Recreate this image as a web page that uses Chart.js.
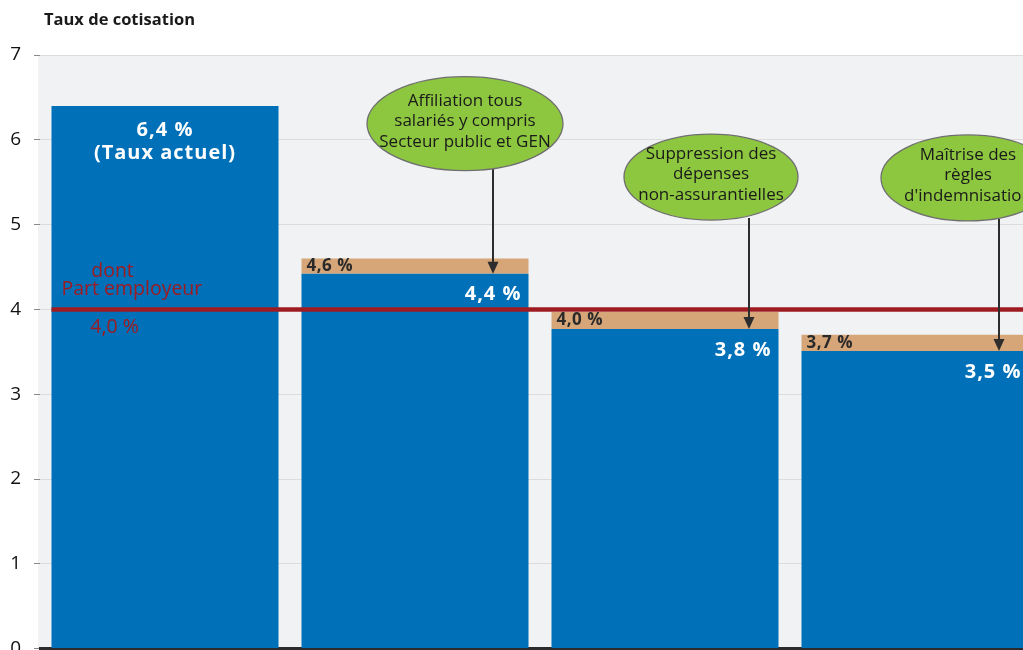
<!DOCTYPE html>
<html><head><meta charset="utf-8">
<script src="https://cdn.jsdelivr.net/npm/chart.js@4.4.1/dist/chart.umd.min.js"></script>
<style>html,body{margin:0;padding:0;background:#fff;overflow:hidden;width:1023px;height:650px}canvas{display:block}</style>
</head><body>
<canvas id="c" width="1045" height="673"></canvas>
<script>
const categories = ['Taux actuel', 'Affiliation', 'Suppression', 'Maîtrise'];
const baseRates = [6.4, 4.42, 3.77, 3.51];
const addedRates = [0, 0.18, 0.2, 0.19];
const baseLabels = ['6,4 %', '4,4 %', '3,8 %', '3,5 %'];
const totalLabels = ['', '4,6 %', '4,0 %', '3,7 %'];
const firstBarNote = '(Taux actuel)';
const employerShare = 4.0;
const employerLabels = ['dont', 'Part employeur', '4,0 %'];
const calloutTexts = [
  null,
  ['Affiliation tous', 'salariés y compris', 'Secteur public et GEN'],
  ['Suppression des', 'dépenses', 'non-assurantielles'],
  ['Maîtrise des', 'règles', "d'indemnisation"]
];
const calloutLevels = [null, 6.19, 5.56, 5.55];
const yTitle = 'Taux de cotisation';

const FONT = '"Open Sans", "DejaVu Sans", sans-serif';
const BLUE = '#0070b8', TAN = '#d6a679', RED = '#9e1b22';

const bgPlugin = {
  id: 'bg',
  beforeDraw(chart) {
    const {ctx, chartArea: a} = chart;
    ctx.save();
    ctx.fillStyle = '#f1f2f4';
    ctx.fillRect(a.left - 2, a.top, a.right - a.left + 2, a.bottom - a.top);
    ctx.restore();
  }
};

const annoPlugin = {
  id: 'anno',
  afterDraw(chart) {
    const {ctx, chartArea: a} = chart;
    const y = chart.scales.y;
    const m0 = chart.getDatasetMeta(0), m1 = chart.getDatasetMeta(1);
    ctx.save();
    ctx.textBaseline = 'middle';
    ctx.fillStyle = '#1a1a1a';
    ctx.font = 'bold 16.5px ' + FONT;
    ctx.textAlign = 'left';
    ctx.fillText(yTitle, 44, 20);

    const b0 = m0.data[0];
    const yl = y.getPixelForValue(employerShare);
    ctx.strokeStyle = RED; ctx.lineWidth = 4.5;
    ctx.beginPath();
    ctx.moveTo(b0.x - b0.width / 2, yl); ctx.lineTo(a.right + 10, yl); ctx.stroke();
    ctx.fillStyle = RED; ctx.font = '19.5px ' + FONT;
    const bl = b0.x - b0.width / 2;
    ctx.textAlign = 'center';
    ctx.fillText(employerLabels[0], bl + 61, yl - 38);
    ctx.textAlign = 'left';
    ctx.fillText(employerLabels[1], bl + 10, yl - 20);
    ctx.textAlign = 'center';
    ctx.fillText(employerLabels[2], bl + 63, yl + 18);

    baseRates.forEach((v, i) => {
      const b = m0.data[i];
      const left = b.x - b.width / 2, right = b.x + b.width / 2;
      ctx.fillStyle = '#fff';
      ctx.font = 'bold 20px ' + FONT;
      ctx.letterSpacing = '1px';
      if (i === 0) {
        ctx.textAlign = 'center';
        ctx.fillText(baseLabels[i], b.x, b.y + 24);
        ctx.fillText(firstBarNote, b.x, b.y + 47);
      } else {
        ctx.textAlign = 'right';
        ctx.fillText(baseLabels[i], right - 7, b.y + 21);
        const t = m1.data[i];
        ctx.fillStyle = '#2a2a2a';
        ctx.font = 'bold 17px ' + FONT;
        ctx.letterSpacing = '0.5px';
        ctx.textAlign = 'left';
        ctx.fillText(totalLabels[i], left + 5, (t.y + b.y) / 2);
      }
      ctx.letterSpacing = '0px';
    });

    calloutTexts.forEach((lines, i) => {
      if (!lines) return;
      const b = m0.data[i];
      const rx = i === 1 ? 98 : 87, ry = i === 1 ? 47 : 43;
      const cx = b.x + (i === 1 ? 50 : i === 2 ? 46 : 53);
      const cy = y.getPixelForValue(calloutLevels[i]);
      const ax = b.x + (i === 1 ? 78 : 84);
      const top = b.y;
      ctx.strokeStyle = '#2d2d2d'; ctx.lineWidth = 2;
      ctx.beginPath(); ctx.moveTo(ax, cy + ry - 2); ctx.lineTo(ax, top - 10); ctx.stroke();
      ctx.fillStyle = '#2d2d2d';
      ctx.beginPath(); ctx.moveTo(ax - 5.5, top - 12); ctx.lineTo(ax + 5.5, top - 12); ctx.lineTo(ax, top); ctx.closePath(); ctx.fill();
      ctx.beginPath(); ctx.ellipse(cx, cy, rx, ry, 0, 0, Math.PI * 2);
      ctx.fillStyle = '#8dc63f'; ctx.fill();
      ctx.strokeStyle = '#6f6f6f'; ctx.lineWidth = 1.3; ctx.stroke();
      ctx.fillStyle = '#1a1a1a'; ctx.font = '17px ' + FONT; ctx.textAlign = 'center';
      lines.forEach((s, k) => ctx.fillText(s, cx, cy - 23 + k * 20.5));
    });
    ctx.restore();
  }
};

new Chart(document.getElementById('c'), {
  type: 'bar',
  data: {
    labels: categories,
    datasets: [
      {data: baseRates, backgroundColor: BLUE, barPercentage: 0.908, categoryPercentage: 1, borderWidth: 0},
      {data: addedRates, backgroundColor: TAN, barPercentage: 0.908, categoryPercentage: 1, borderWidth: 0}
    ]
  },
  options: {
    responsive: false, animation: false,
    layout: {padding: {top: 55, left: 0, right: 5, bottom: 0}},
    plugins: {legend: {display: false}, tooltip: {enabled: false}, title: {display: false}},
    scales: {
      x: {
        stacked: true, z: 1,
        grid: {display: false, drawTicks: false},
        ticks: {display: false},
        border: {display: true, color: '#2b2b2b', width: 3},
        afterFit(s) { s.height = 2; }
      },
      y: {
        stacked: true, min: 0, max: 7,
        afterFit(s) { s.width = 40; },
        ticks: {stepSize: 1, padding: 13, color: '#111', font: {size: 19, family: FONT}},
        grid: {color: '#dcdcdc', tickColor: '#8a8a8a', tickLength: 6, lineWidth: 1},
        border: {display: false}
      }
    }
  },
  plugins: [bgPlugin, annoPlugin]
});
</script>
</body></html>
